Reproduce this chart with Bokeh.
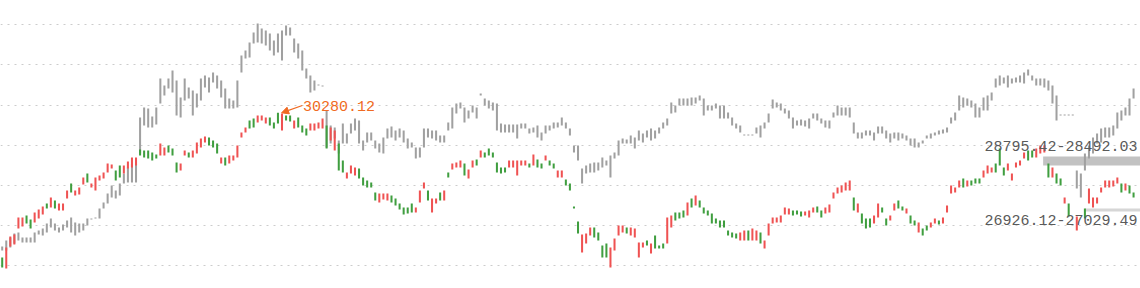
from bokeh.plotting import figure
from bokeh.models import ColumnDataSource, Range1d, FixedTicker, Arrow, NormalHead, Label, Grid
from bokeh.embed import file_html
from bokeh.resources import INLINE

nan = float("nan")

# Main index (coloured candles): open / close per session
c_open = [
    25362, 24988, 25736, 25804, 26348, 26416, 26790, 26654, 26552, 26688,
    26824, 27198, 27062, 27300, 26960, 26960, 27368, 27878, 27470, 27504,
    27844, 28218, 27742, 27640, 27980, 28048, 28252, 28388, 28320, 28490,
    28218, 28388, 28422, 28490, 29034, 29000, 29000, 28932, 28864, 28830,
    28830, 29170, 29068, 28592, 28320, 28830, 28932, 28762, 28898, 29102,
    29272, 29442, 29340, 29238, 28558, 28762, 28558, 28660, 28762, 29442,
    29612, 30020, 30088, 29952, 30020, 29918, 30122, 29952, 30280.12, 29680,
    30190, 30190, 29748, 30122, 29850, 29748, 29680, 29680, 29748, 29748,
    29850, 29340, 29000, 29238, 28660, 28048, 28218, 28150, 28388, 28082,
    27980, 27912, 27572, 27232, 27334, 27300, 27470, 27368, 27198, 27062,
    27062, 27198, 26892, 27232, 27708, 27640, 26892, 27198, 27572, 27300,
    28252, 28354, 28422, 28422, 28558, 28048, 28422, 28694, 28762, 28932,
    29068, 28932, 28592, 28422, 28422, 28422, 28422, 28150, 28490, 28490,
    28558, 28490, 28694, 28558, 28660, 28660, 28558, 28082, 28082, 28014,
    27878, 27096, 26586, 25532, 25838, 26110, 26382, 26212, 25770, 25838,
    25022, 25600, 26110, 26212, 26382, 26110, 26042, 25362, 25702, 25940,
    25498, 26110, 25770, 25838, 25838, 26382, 26892, 26892, 26960, 26790,
    27368, 27130, 27300, 27062, 26960, 26858, 26688, 26620, 26620, 26280,
    26212, 26178, 25940, 25940, 26280, 25940, 25940, 26212, 25668, 26110,
    26518, 26552, 26552, 26824, 26824, 26960, 26960, 26926, 26790, 26722,
    26892, 27096, 26960, 26858, 26892, 27368, 27538, 27572, 27640, 27640,
    27402, 26892, 26858, 26688, 26688, 26518, 26722, 27062, 26688, 26620,
    26960, 27300, 27096, 26858, 26790, 26620, 26212, 26348, 26450, 26382,
    26518, 26620, 26518, 26892, 27538, 27572, 27742, 28048, 27776, 27980,
    28048, 28048, 28082, 28218, 28252, 28558, 29068, 28422, 28320, 27980,
    28422, 28490, 28728, 29000, 29000, 28762, 28898, 28932, 28558, 28082,
    28218, 28048, 27198, 27198, nan, 26280, nan, 27029.49, 27198, 27062,
    27198, 27572, 27742, 27742, 27776, 27878, 27878, 27640, 27810, 27572,
]
c_close = [
    25022, 25702, 26076, 26144, 26722, 26722, 26518, 26348, 26892, 26994,
    27096, 27028, 27402, 27028, 27198, 27198, 27640, 27572, 27640, 27742,
    28082, 27912, 27878, 28082, 28150, 28252, 28558, 28524, 27980, 28082,
    28490, 28626, 28762, 28762, 28830, 28762, 28728, 28660, 28728, 29238,
    29102, 28932, 28830, 28252, 28558, 29000, 28762, 29000, 29272, 29408,
    29476, 29170, 29102, 28898, 28762, 28490, 28830, 28830, 29170, 29612,
    29782, 29748, 29782, 30190, 30190, 30122, 29850, 29748, 29918, 30258,
    30020, 29986, 30020, 29782, 29612, 29510, 29918, 29918, 29952, 30088,
    29068, 29782, 29680, 28320, 28252, 28252, 28490, 28422, 28048, 27810,
    27742, 27742, 27300, 27538, 27538, 27538, 27232, 27130, 26994, 26824,
    26858, 26892, 27062, 27640, 27912, 27300, 27368, 27368, 27300, 27640,
    28082, 28558, 28592, 28660, 28150, 28354, 28660, 28490, 29000, 28762,
    28830, 28762, 28252, 28218, 28252, 28660, 28660, 28660, 28660, 28660,
    28422, 28864, 28422, 28388, 28830, 28490, 28388, 28320, 28320, 27810,
    27640, 27028, 26178, 26144, 26178, 26382, 26042, 25940, 25362, 25362,
    25702, 26008, 26450, 26450, 26178, 26382, 26348, 25872, 25872, 25770,
    25838, 25668, 25668, 25668, 26722, 26790, 26620, 26688, 26722, 27232,
    27062, 27470, 27062, 26858, 26790, 26518, 26518, 26382, 26382, 26110,
    26042, 26008, 26212, 26280, 25940, 26348, 26280, 25838, 25940, 26518,
    26722, 26722, 26790, 27062, 27028, 26790, 26824, 26756, 26926, 26960,
    27062, 26892, 26722, 27062, 27164, 27572, 27742, 27810, 27912, 27980,
    26960, 27198, 26518, 26348, 26382, 26790, 27198, 26892, 26450, 26790,
    27198, 27028, 26960, 27028, 26518, 26450, 26552, 26110, 26280, 26552,
    26688, 26484, 26722, 27130, 27810, 27742, 27980, 27742, 27980, 27810,
    27878, 27878, 28320, 28490, 28422, 28252, 28490, 28150, 28558, 28218,
    28592, 28660, 28932, 28660, 28762, 29068, 29170, 29170, 28082, 28422,
    27878, 27810, 27402, 26756, nan, 26756, nan, 26688, 27708, 27402,
    27402, 27742, 27980, 27980, 27980, 28082, 27572, 27878, 27538, 27402,
]

# Comparison index (grey bars): high / low per session
g_high = [
    25736, 25940, 26042, 26178, 26212, 26042, 26042, 26042, 26212, 26280,
    26348, 26518, 26688, 26518, 26382, 26484, 26620, 26722, 26552, 26518,
    26518, 26688, 26688, 26722, 27028, 27232, 27538, 27810, 27640, 27878,
    28218, 28422, 28558, 28558, 30122, 30462, 30428, 30156, 30462, 31448,
    31210, 31448, 31720, 31380, 30802, 31448, 31142, 31040, 30938, 31448,
    31550, 31482, 31652, 31550, 31380, 31108, 30768, 30700, 31380, 32230,
    32400, 32672, 33012, 33318, 33148, 33080, 32978, 32740, 32978, 33080,
    33250, 33182, 32808, 32638, 32400, 31788, 31550, 31380, 31244, 31210,
    30360, 29850, 29782, 29340, 29918, 29578, 29918, 30088, 30020, 29340,
    29612, 29612, 29340, 29238, 29442, 29748, 29816, 29680, 29748, 29680,
    29408, 29272, 29102, 29102, 29748, 29748, 29680, 29680, 29510, 29510,
    29952, 30462, 30598, 30632, 30462, 30360, 30530, 30462, 30938, 30768,
    30700, 30632, 30598, 29918, 29884, 29884, 29884, 29884, 29918, 29918,
    29748, 29782, 29850, 29612, 29850, 29850, 29952, 29952, 30122, 29952,
    29748, 29170, 29170, 28388, 28490, 28558, 28592, 28592, 28762, 28660,
    28830, 28932, 29340, 29408, 29374, 29510, 29442, 29680, 29578, 29680,
    29748, 29680, 29782, 29952, 30088, 30632, 30530, 30768, 30768, 30768,
    30802, 30802, 30870, 30768, 30530, 30530, 30598, 30530, 30530, 30292,
    30122, 29918, 29850, 29544, 29544, 29544, 29782, 29850, 29952, 30258,
    30734, 30632, 30598, 30428, 30360, 30122, 30020, 30054, 30020, 30088,
    30258, 30258, 30088, 30020, 30020, 30292, 30530, 30462, 30462, 30462,
    29952, 29612, 29612, 29680, 29680, 29612, 29816, 29816, 29680, 29578,
    29612, 29612, 29578, 29510, 29408, 29408, 29272, 29340, 29510, 29578,
    29612, 29680, 29714, 29782, 30122, 30292, 30870, 30802, 30768, 30700,
    30598, 30462, 30802, 30870, 30972, 31448, 31550, 31482, 31550, 31448,
    31482, 31550, 31652, 31754, 31550, 31448, 31448, 31448, 31380, 31210,
    30870, 30224, 30224, 30224, 30224, 28320, 28218, 28898, 29170, 29442,
    29578, 29748, 29782, 29782, 29850, 30292, 30360, 30462, 30768, 31108,
]
g_low = [
    25600, 25600, 25702, 25838, 25940, 25872, 25872, 25872, 25872, 26144,
    26110, 26212, 26382, 26280, 26212, 26280, 26382, 26212, 26110, 26212,
    26280, 26450, 26654, 26688, 26688, 27028, 27198, 27402, 27368, 27470,
    27878, 27912, 27912, 27912, 28898, 29850, 29782, 29782, 29884, 30598,
    30870, 31108, 30972, 30190, 30122, 30700, 30768, 30190, 30462, 30700,
    31142, 30972, 31312, 31108, 30802, 30428, 30428, 30428, 30462, 31652,
    32128, 32162, 32638, 32672, 32638, 32570, 32400, 32230, 32332, 32060,
    32910, 32910, 32332, 32128, 31720, 31448, 30972, 31040, 31210, 31176,
    29102, 29238, 29408, 28898, 29238, 29238, 29578, 29680, 29238, 29000,
    29272, 29340, 29068, 28932, 28898, 29408, 29442, 29340, 29442, 29272,
    29068, 29102, 28728, 28762, 29102, 29442, 29408, 29340, 29272, 29272,
    29680, 29748, 30258, 30428, 29952, 30088, 30292, 30088, 30870, 30530,
    30428, 30360, 29680, 29612, 29612, 29612, 29612, 29408, 29748, 29748,
    29578, 29612, 29442, 29340, 29578, 29680, 29748, 29782, 29850, 29748,
    29510, 28932, 28660, 27878, 28218, 28252, 28252, 28320, 28422, 28490,
    28082, 28728, 28830, 29238, 29238, 29238, 29068, 29340, 29272, 29442,
    29340, 29408, 29578, 29748, 29850, 30258, 30292, 30530, 30530, 30530,
    30530, 30598, 30700, 30190, 30360, 30360, 30428, 30088, 30088, 30088,
    29850, 29748, 29612, 29510, 29510, 29510, 29578, 29442, 29748, 29952,
    30428, 30462, 30360, 30258, 30088, 29748, 29850, 29850, 29816, 29748,
    30088, 30020, 29918, 29782, 29748, 30122, 30190, 30190, 30190, 30122,
    29578, 29408, 29408, 29510, 29510, 29340, 29578, 29578, 29408, 29272,
    29408, 29340, 29408, 29340, 29170, 29102, 29102, 29238, 29408, 29408,
    29510, 29544, 29578, 29612, 29918, 30020, 30360, 30462, 30530, 30462,
    30122, 30122, 30360, 30360, 30700, 31142, 31210, 31278, 31142, 31278,
    31312, 31312, 31278, 31550, 31380, 31210, 31210, 31142, 31040, 30598,
    30020, 30190, 30190, 30190, 30190, 27708, 27402, 28320, 28728, 28898,
    29238, 29272, 29442, 29442, 29510, 29748, 30020, 30190, 30190, 30768,
]

# Gap annotations (price levels and the session where each gap starts)
gap_hi = (28795.42, 28492.03)
gap_hi_start = 257
gap_lo = (26926.12, 27029.49)
gap_lo_start = 267

# Horizontal guide levels
grid_levels = [25076, 26443, 27810, 29177, 30544, 31911, 33278]

RED = "#ef5252"
GREEN = "#3f9e3f"
GREY = "#a0a0a0"
ORANGE = "#f06a22"
TEXT_GREY = "#5a5a5a"

n = len(c_open)
xs = list(range(n))


def isnan(v):
    return v != v


c_top, c_bot, c_col = [], [], []
for o, c in zip(c_open, c_close):
    if isnan(o) or isnan(c):
        c_top.append(nan)
        c_bot.append(nan)
        c_col.append(GREY)
    else:
        c_top.append(max(o, c))
        c_bot.append(min(o, c))
        c_col.append(RED if c >= o else GREEN)

src_c = ColumnDataSource(dict(x=xs, top=c_top, bottom=c_bot, color=c_col))
src_g = ColumnDataSource(dict(x=xs, top=g_high, bottom=g_low))

x_end = n + 0.71
p = figure(width=1140, height=288, output_backend="svg", toolbar_location=None,
           x_range=Range1d(-0.42, x_end), y_range=Range1d(24308, 34100),
           x_axis_location=None, y_axis_location=None, min_border=0,
           outline_line_color=None, background_fill_color="white",
           border_fill_color="white")

p.center = [r for r in p.center if not isinstance(r, Grid)]
p.add_layout(Grid(dimension=1, ticker=FixedTicker(ticks=grid_levels),
                  grid_line_color="#cccccc", grid_line_dash="2 5",
                  grid_line_width=1))

# gap bands
p.quad(left=[gap_hi_start - 0.3], right=[x_end], bottom=[gap_hi[1]], top=[gap_hi[0]],
       fill_color="#c2c2c2", line_color=None)
p.quad(left=[gap_lo_start], right=[x_end], bottom=[gap_lo[0]], top=[gap_lo[1]],
       fill_color="#d6d6d6", line_color=None)

p.vbar(x="x", width=0.5, top="top", bottom="bottom", source=src_g,
       fill_color=GREY, line_color=None)
p.vbar(x="x", width=0.5, top="top", bottom="bottom", source=src_c,
       fill_color="color", line_color=None)

# peak annotation
valid = [(t, i) for i, t in enumerate(c_top) if not isnan(t)]
peak_val, pk = max(valid)
p.add_layout(Arrow(end=NormalHead(size=7, line_color=ORANGE, fill_color=ORANGE, line_width=1),
                   x_start=pk + 6.0, y_start=peak_val + 250, x_end=pk + 0.9, y_end=peak_val,
                   line_color=ORANGE, line_width=1.3))
p.add_layout(Label(x=pk + 6.2, y=peak_val + 235, text=f"{peak_val:.2f}",
                   text_font="Liberation Mono", text_font_size="15px",
                   text_color=ORANGE, text_baseline="middle"))

p.add_layout(Label(x=n - 0.02, y=gap_hi[0], text=f"{gap_hi[0]:.2f}-{gap_hi[1]:.2f}",
                   text_font="Liberation Mono", text_font_size="15px",
                   text_color=TEXT_GREY, text_align="right", text_baseline="alphabetic",
                   y_offset=11))
p.add_layout(Label(x=n - 0.02, y=gap_lo[1], text=f"{gap_lo[0]:.2f}-{gap_lo[1]:.2f}",
                   text_font="Liberation Mono", text_font_size="15px",
                   text_color=TEXT_GREY, text_align="right", text_baseline="alphabetic",
                   y_offset=-12))

open("out.html", "w").write(file_html(p, INLINE))
